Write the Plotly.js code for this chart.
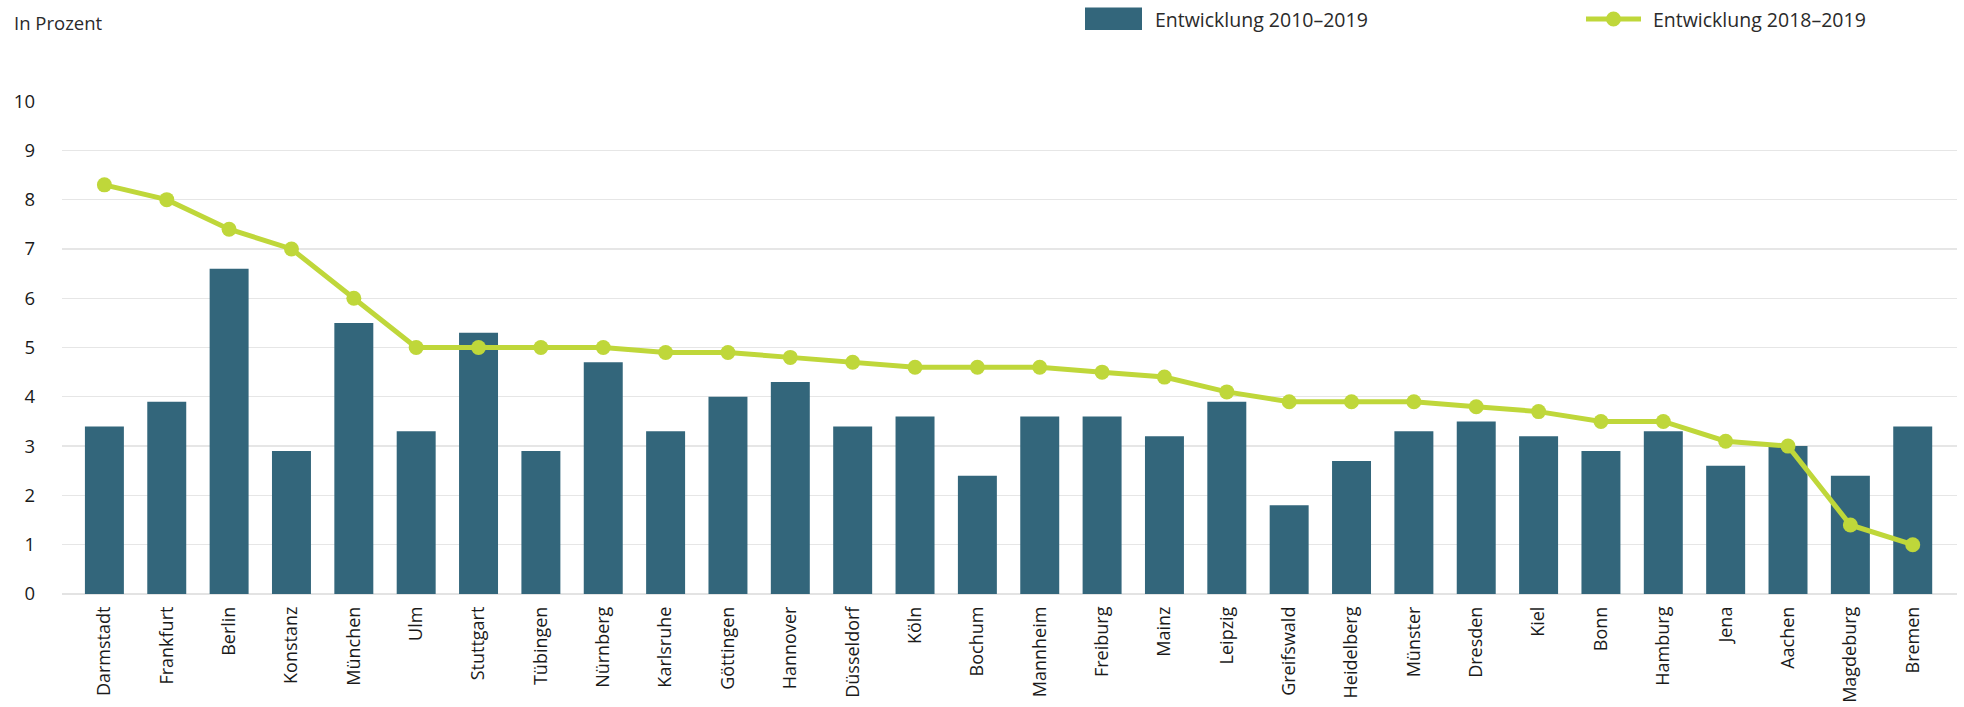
<!DOCTYPE html>
<html>
<head>
<meta charset="utf-8">
<script src="https://cdn.plot.ly/plotly-3.0.1.min.js"></script>
<style>
  html, body { margin: 0; padding: 0; background: #fff; }
  #chart { width: 1964px; height: 707px; }
</style>
</head>
<body>
<div id="chart"></div>
<script>
// ---- data ----
const cities = ["Darmstadt","Frankfurt","Berlin","Konstanz","München","Ulm","Stuttgart","Tübingen","Nürnberg","Karlsruhe",
  "Göttingen","Hannover","Düsseldorf","Köln","Bochum","Mannheim","Freiburg","Mainz","Leipzig","Greifswald",
  "Heidelberg","Münster","Dresden","Kiel","Bonn","Hamburg","Jena","Aachen","Magdeburg","Bremen"];
const dev2010_2019 = [3.4,3.9,6.6,2.9,5.5,3.3,5.3,2.9,4.7,3.3,
  4.0,4.3,3.4,3.6,2.4,3.6,3.6,3.2,3.9,1.8,
  2.7,3.3,3.5,3.2,2.9,3.3,2.6,3.0,2.4,3.4];
const dev2018_2019 = [8.3,8.0,7.4,7.0,6.0,5.0,5.0,5.0,5.0,4.9,
  4.9,4.8,4.7,4.6,4.6,4.6,4.5,4.4,4.1,3.9,
  3.9,3.9,3.8,3.7,3.5,3.5,3.1,3.0,1.4,1.0];
const seriesNames = ["Entwicklung 2010–2019", "Entwicklung 2018–2019"];
const yTitle = "In Prozent";

// ---- styles ----
const barColor = "#33667b";
const lineColor = "#bfd73a";
const fontFam = "'Open Sans', 'Noto Sans', sans-serif";

// plot area in pixels
const W = 1964, H = 707;
const L = 62, R = 1957, T = 101, B = 594;
const px = x => (x - L) / (R - L);
const py = y => (B - y) / (B - T);

const traces = [
  {
    type: "bar", x: cities, y: dev2010_2019, name: seriesNames[0],
    marker: { color: barColor }, hoverinfo: "x+y"
  },
  {
    type: "scatter", mode: "lines+markers", x: cities, y: dev2018_2019, name: seriesNames[1],
    line: { color: lineColor, width: 5 },
    marker: { color: lineColor, size: 15 }
  }
];

const layout = {
  width: W, height: H,
  margin: { l: L, r: W - R, t: T, b: H - B, pad: 0 },
  paper_bgcolor: "#fff", plot_bgcolor: "#fff",
  showlegend: false,
  bargap: 0.375,
  font: { family: fontFam, size: 18, color: "#222" },
  xaxis: {
    type: "category",
    range: [-0.68, 29.71],
    tickangle: -90,
    showgrid: false,
    zeroline: false,
    showline: false,
    ticks: "",
    ticklabelstandoff: 8,
    tickfont: { family: fontFam, size: 18, color: "#1a1a1a" },
    fixedrange: true
  },
  yaxis: {
    range: [0, 10.001],
    dtick: 1, tick0: 0,
    showgrid: true, gridcolor: "#e6e6e6", gridwidth: 1.3,
    zeroline: true, zerolinecolor: "#e3e3e3", zerolinewidth: 2.5,
    showline: false, ticks: "",
    ticklabelstandoff: 26,
    tickfont: { family: fontFam, size: 18.5, color: "#1a1a1a" },
    fixedrange: true
  },
  shapes: [
    { type: "rect", xref: "paper", yref: "paper",
      x0: px(1085), x1: px(1142), y0: py(30), y1: py(7.5),
      fillcolor: barColor, line: { width: 0 } },
    { type: "line", xref: "paper", yref: "paper",
      x0: px(1586), x1: px(1641), y0: py(19), y1: py(19),
      line: { color: lineColor, width: 5 } },
    { type: "circle", xref: "paper", yref: "paper",
      x0: px(1613.5 - 7.5), x1: px(1613.5 + 7.5), y0: py(19 + 7.5), y1: py(19 - 7.5),
      fillcolor: lineColor, line: { width: 0 } }
  ],
  annotations: [
    { text: yTitle, xref: "paper", yref: "paper", x: px(12), y: py(22),
      xanchor: "left", yanchor: "middle", showarrow: false,
      font: { family: fontFam, size: 18.5, color: "#2a2a2a" } },
    { text: seriesNames[0], xref: "paper", yref: "paper", x: px(1153), y: py(20),
      xanchor: "left", yanchor: "middle", showarrow: false,
      font: { family: fontFam, size: 19.5, color: "#2a2a2a" } },
    { text: seriesNames[1], xref: "paper", yref: "paper", x: px(1651), y: py(20),
      xanchor: "left", yanchor: "middle", showarrow: false,
      font: { family: fontFam, size: 19.5, color: "#2a2a2a" } }
  ]
};

Plotly.newPlot("chart", traces, layout, { displayModeBar: false, staticPlot: true });
</script>
</body>
</html>
